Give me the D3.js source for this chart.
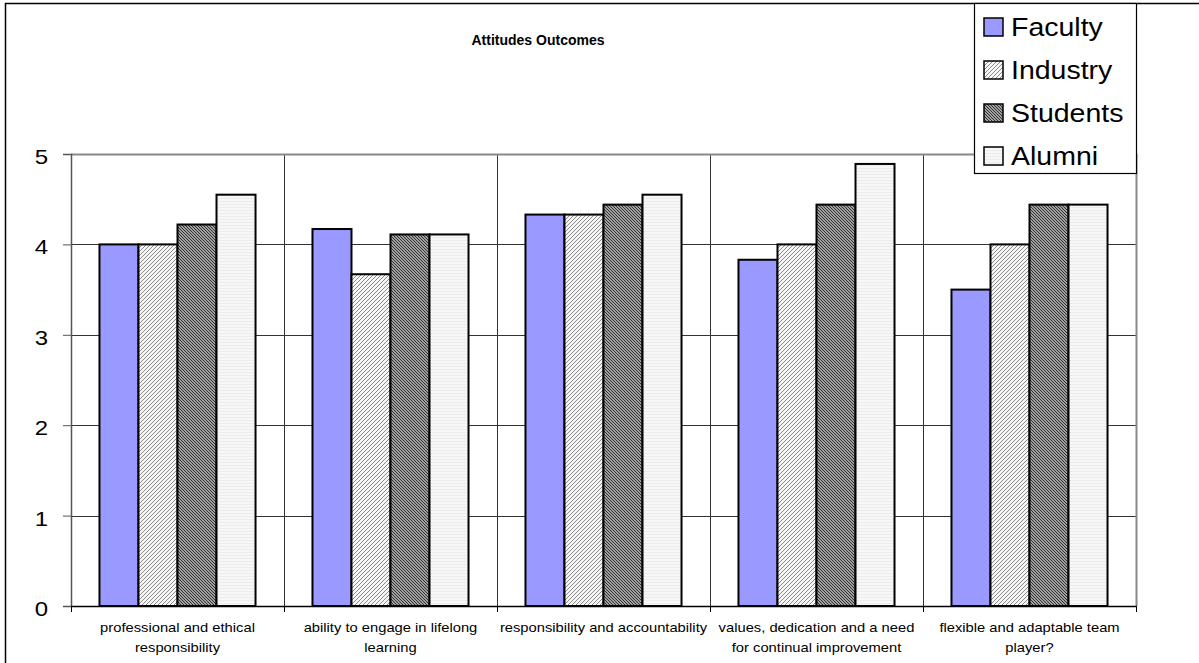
<!DOCTYPE html>
<html>
<head>
<meta charset="utf-8">
<script src="https://cdn.jsdelivr.net/npm/d3@7"></script>
<style>
  html, body { margin: 0; padding: 0; background: #fff; }
  svg { display: block; font-family: "Liberation Sans", Arial, sans-serif; }
</style>
</head>
<body>
<script>
// Survey averages per outcome, one array per respondent group
const categories = [
  ["professional and ethical", "responsibility"],
  ["ability to engage in lifelong", "learning"],
  ["responsibility and accountability"],
  ["values, dedication and a need", "for continual improvement"],
  ["flexible and adaptable team", "player?"]
];
const seriesNames = ["Faculty", "Industry", "Students", "Alumni"];
const faculty  = [4.00, 4.17, 4.33, 3.83, 3.50];
const industry = [4.00, 3.67, 4.33, 4.00, 4.00];
const students = [4.22, 4.11, 4.44, 4.44, 4.44];
const alumni   = [4.55, 4.11, 4.55, 4.89, 4.44];
const yTicks = [0, 1, 2, 3, 4, 5];

const seriesValues = [faculty, industry, students, alumni];

const W = 1199, H = 663;
const plot = { left: 71, right: 1136, top: 154, bottom: 606 };

const svg = d3.select("body").append("svg").attr("width", W).attr("height", H);
const defs = svg.append("defs");

// Fill patterns for the hatched series
const pInd = defs.append("pattern").attr("id", "fillIndustry")
  .attr("patternUnits", "userSpaceOnUse").attr("width", 4).attr("height", 4);
pInd.append("rect").attr("width", 4).attr("height", 4).attr("fill", "#f6f6f6");
pInd.append("path").attr("d", "M-1,1 L1,-1 M0,4 L4,0 M3,5 L5,3")
  .attr("stroke", "#8a8a8a").attr("stroke-width", 1);

const pStu = defs.append("pattern").attr("id", "fillStudents")
  .attr("patternUnits", "userSpaceOnUse").attr("width", 3).attr("height", 3);
pStu.append("rect").attr("width", 3).attr("height", 3).attr("fill", "#cfcfcf");
pStu.append("path").attr("d", "M-1,-1 L4,4 M-1,2 L1,4 M2,-1 L4,1")
  .attr("stroke", "#2a2a2a").attr("stroke-width", 1.1);

const pAlu = defs.append("pattern").attr("id", "fillAlumni")
  .attr("patternUnits", "userSpaceOnUse").attr("width", 4).attr("height", 3);
pAlu.append("rect").attr("width", 4).attr("height", 3).attr("fill", "#f7f7f7");
pAlu.append("path").attr("d", "M0,0.5 L4,0.5").attr("stroke", "#ececec").attr("stroke-width", 1);

const fills = ["#9999ff", "url(#fillIndustry)", "url(#fillStudents)", "url(#fillAlumni)"];

// Outer chart frame
svg.append("rect").attr("x", 5.5).attr("y", 3.5).attr("width", 1300).attr("height", 700)
  .attr("fill", "#fff").attr("stroke", "#000").attr("stroke-width", 1.5);

// Scales
const x0 = d3.scaleBand().domain(d3.range(categories.length))
  .range([plot.left, plot.right]).padding(0);
const x1 = d3.scaleBand().domain(seriesNames)
  .range([0, x0.bandwidth()]).paddingInner(0).paddingOuter(0.73);
const y = d3.scaleLinear().domain([0, 5]).range([plot.bottom, plot.top]);

// Horizontal gridlines
svg.append("g").selectAll("line").data(yTicks.filter(t => t > 0 && t < 5)).join("line")
  .attr("x1", plot.left).attr("x2", plot.right)
  .attr("y1", d => Math.round(y(d)) + 0.5).attr("y2", d => Math.round(y(d)) + 0.5)
  .attr("stroke", "#333").attr("stroke-width", 1);

// Vertical category gridlines
svg.append("g").selectAll("line").data(d3.range(1, categories.length)).join("line")
  .attr("x1", d => Math.round(x0(d)) + 0.5).attr("x2", d => Math.round(x0(d)) + 0.5)
  .attr("y1", plot.top).attr("y2", plot.bottom)
  .attr("stroke", "#333").attr("stroke-width", 1);

// Plot area border (top and right)
svg.append("path")
  .attr("d", `M${plot.left},${plot.top + 0.5} H${plot.right + 0.5} V${plot.bottom}`)
  .attr("fill", "none").attr("stroke", "#888").attr("stroke-width", 2);

// Bars
const groups = svg.append("g").selectAll("g").data(categories).join("g")
  .attr("transform", (d, i) => `translate(${x0(i)},0)`);
groups.selectAll("rect")
  .data((d, i) => seriesNames.map((s, k) => ({ s, k, v: seriesValues[k][i] })))
  .join("rect")
  .attr("x", d => x1(d.s))
  .attr("width", x1.bandwidth())
  .attr("y", d => y(d.v))
  .attr("height", d => y(0) - y(d.v))
  .attr("fill", d => fills[d.k])
  .attr("stroke", "#000").attr("stroke-width", 2);

// Y axis
const yAxis = svg.append("g").attr("transform", `translate(${plot.left},0)`)
  .call(d3.axisLeft(y).tickValues(yTicks).tickFormat(d3.format("d")).tickSize(8).tickPadding(10));
yAxis.select(".domain").attr("stroke", "#555").attr("stroke-width", 1.5);
yAxis.selectAll(".tick line").attr("stroke", "#555");
yAxis.selectAll(".tick text")
  .attr("x", 0).attr("dy", "0.4em")
  .attr("transform", "translate(-23,1.5) scale(1.2,1)")
  .attr("font-size", 20).attr("fill", "#000")
  .attr("font-family", "Liberation Sans, Arial, sans-serif");

// X axis baseline and category ticks
const xAxis = svg.append("g").attr("transform", `translate(0,${plot.bottom})`);
xAxis.append("line").attr("x1", plot.left).attr("x2", plot.right + 1)
  .attr("y1", 0.5).attr("y2", 0.5).attr("stroke", "#000").attr("stroke-width", 1.5);
xAxis.selectAll("line.tk").data(d3.range(categories.length + 1)).join("line")
  .attr("class", "tk")
  .attr("x1", d => Math.round(plot.left + d * x0.step()) + 0.5)
  .attr("x2", d => Math.round(plot.left + d * x0.step()) + 0.5)
  .attr("y1", 0).attr("y2", 6).attr("stroke", "#000");
xAxis.selectAll("text").data(categories).join("text")
  .attr("text-anchor", "middle").attr("font-size", 12.5).attr("fill", "#000")
  .attr("transform", (d, i) => `translate(${x0(i) + x0.bandwidth() / 2},0) scale(1.18,1)`)
  .selectAll("tspan").data(d => d).join("tspan")
  .attr("x", 0).attr("y", (d, j) => 26 + j * 20).text(d => d);

// Title
svg.append("text").attr("x", 538).attr("y", 45).attr("text-anchor", "middle")
  .attr("font-size", 14).attr("font-weight", "bold").text("Attitudes Outcomes");

// Legend
const lg = svg.append("g").attr("transform", "translate(974,0)");
lg.append("rect").attr("x", 0.5).attr("y", 3.5).attr("width", 162).attr("height", 170)
  .attr("fill", "#fff").attr("stroke", "#000").attr("stroke-width", 1.2);
const items = lg.selectAll("g.item").data(seriesNames).join("g")
  .attr("class", "item")
  .attr("transform", (d, i) => `translate(10,${27 + i * 43})`);
items.append("rect").attr("x", 0).attr("y", -9).attr("width", 19).attr("height", 18)
  .attr("fill", (d, i) => fills[i]).attr("stroke", "#000").attr("stroke-width", 1.5);
items.append("text").attr("transform", "translate(27,9) scale(1.14,1)")
  .attr("font-size", 25).text(d => d);
</script>
</body>
</html>
